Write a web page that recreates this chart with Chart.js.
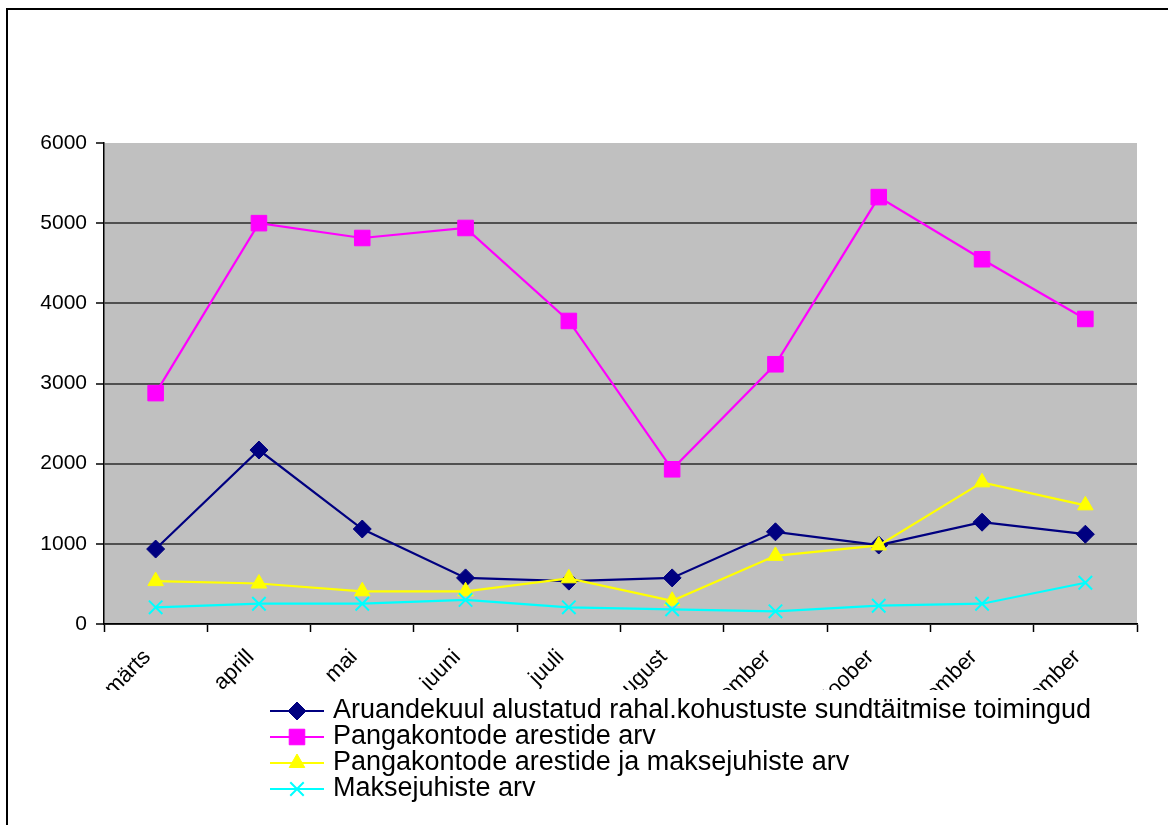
<!DOCTYPE html>
<html>
<head>
<meta charset="utf-8">
<script src="https://cdn.jsdelivr.net/npm/chart.js@4.4.0/dist/chart.umd.min.js"></script>
<style>
html,body{margin:0;padding:0;background:#fff;}
canvas{display:block;}
</style>
</head>
<body>
<canvas id="c" width="1168" height="825"></canvas>
<script>
// kuud ja sarjade väärtused
const months = ['märts','aprill','mai','juuni','juuli','august','september','oktoober','november','detsember'];
const toimingud = [935, 2170, 1185, 575, 535, 575, 1150, 985, 1270, 1120];
const arestid = [2880, 5000, 4815, 4940, 3780, 1930, 3240, 5325, 4550, 3805];
const arestidJaJuhised = [535, 505, 408, 408, 570, 290, 850, 980, 1767, 1480];
const juhised = [208, 253, 253, 300, 208, 183, 158, 228, 253, 515];
const yTicks = [0, 1000, 2000, 3000, 4000, 5000, 6000];

const seriesNames = [
  'Aruandekuul alustatud rahal.kohustuste sundtäitmise toimingud',
  'Pangakontode arestide arv',
  'Pangakontode arestide ja maksejuhiste arv',
  'Maksejuhiste arv'
];

const FONT = '"Liberation Sans", Arial, sans-serif';

function series(label, data, color, style, radius, order){
  return {
    label, data,
    borderColor: color, backgroundColor: color,
    pointBackgroundColor: color, pointBorderColor: color,
    pointStyle: style, pointRadius: radius, pointHoverRadius: radius,
    pointBorderWidth: style === 'crossRot' ? 2 : 1,
    borderWidth: 2.2, tension: 0, order
  };
}

// taust, raam ja hall joonise ala
const frame = {
  id: 'frame',
  beforeDraw(chart){
    const {ctx, chartArea: a} = chart;
    ctx.save();
    ctx.fillStyle = '#fff';
    ctx.fillRect(0, 0, chart.width, chart.height);
    ctx.fillStyle = '#c0c0c0';
    ctx.fillRect(a.left, a.top, a.right - a.left, a.bottom - a.top);
    ctx.fillStyle = '#000';
    ctx.fillRect(6, 8, chart.width - 6, 2);
    ctx.fillRect(6, 8, 2, chart.height - 8);
    ctx.restore();
  }
};

// kaldus kuunimed, alt kärbitud nagu legendi kohal
const monthLabels = {
  id: 'monthLabels',
  afterDraw(chart){
    const {ctx} = chart;
    const x = chart.scales.x;
    ctx.save();
    ctx.beginPath();
    ctx.rect(0, x.top + 1, chart.width, 690 - x.top - 1);
    ctx.clip();
    ctx.font = '22px ' + FONT;
    ctx.fillStyle = '#000';
    ctx.textAlign = 'right';
    ctx.textBaseline = 'alphabetic';
    months.forEach((m, i) => {
      const px = x.getPixelForTick(i);
      ctx.save();
      ctx.translate(px - 4, 658);
      ctx.rotate(-Math.PI / 4);
      ctx.fillText(m, 0, 0);
      ctx.restore();
    });
    ctx.restore();
  }
};

// legend joonise all
const legendBox = {
  id: 'legendBox',
  afterDraw(chart){
    const {ctx} = chart;
    ctx.save();
    ctx.font = '27px ' + FONT;
    ctx.textAlign = 'left';
    ctx.textBaseline = 'alphabetic';
    chart.data.datasets.forEach((ds, i) => {
      const y = 711 + i * 26;
      ctx.strokeStyle = ds.borderColor;
      ctx.lineWidth = 2;
      ctx.beginPath();
      ctx.moveTo(270, y);
      ctx.lineTo(324, y);
      ctx.stroke();
      ctx.fillStyle = ds.pointBackgroundColor;
      ctx.strokeStyle = ds.pointBorderColor;
      ctx.lineWidth = ds.pointBorderWidth;
      Chart.helpers.drawPoint(ctx, {
        pointStyle: ds.pointStyle, radius: ds.pointRadius,
        rotation: 0, borderWidth: ds.pointBorderWidth
      }, 297, y);
      ctx.fillStyle = '#000';
      ctx.fillText(ds.label, 333, y + 7);
    });
    ctx.restore();
  }
};

new Chart(document.getElementById('c'), {
  type: 'line',
  data: {
    labels: months,
    datasets: [
      series(seriesNames[0], toimingud, '#000080', 'rectRot', 9, 4),
      series(seriesNames[1], arestid, '#ff00ff', 'rect', 11, 3),
      series(seriesNames[2], arestidJaJuhised, '#ffff00', 'triangle', 9, 2),
      series(seriesNames[3], juhised, '#00ffff', 'crossRot', 9.5, 1)
    ]
  },
  options: {
    responsive: false,
    animation: false,
    events: [],
    layout: { padding: { top: 143, right: 31, left: 0, bottom: 0 } },
    plugins: { legend: { display: false }, tooltip: { enabled: false } },
    scales: {
      x: {
        offset: true,
        afterFit(s){ s.height = 201; },
        ticks: { display: false },
        grid: { drawOnChartArea: false, tickLength: 8, tickColor: '#000', tickWidth: 1.5, offset: true },
        border: { color: '#000', width: 1.5 }
      },
      y: {
        min: 0, max: 6000,
        afterFit(s){ s.width = 104; },
        afterBuildTicks(s){ s.ticks = yTicks.map(v => ({ value: v })); },
        ticks: { font: { family: FONT, size: 21 }, color: '#000', padding: 9, callback: v => String(v) },
        grid: {
          color: c => (c.tick && c.tick.value === 6000) ? 'rgba(0,0,0,0)' : '#505050',
          lineWidth: 2, tickLength: 8, tickColor: '#000', tickWidth: 1.5
        },
        border: { color: '#000', width: 1.5 }
      }
    }
  },
  plugins: [frame, monthLabels, legendBox]
});
</script>
</body>
</html>
